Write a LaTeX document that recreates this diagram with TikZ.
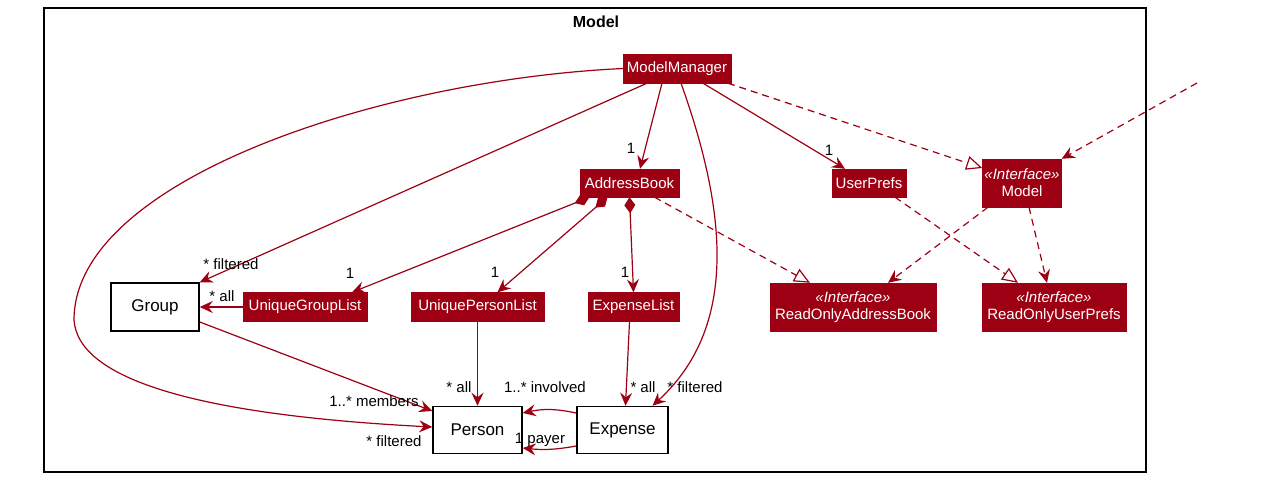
\documentclass[tikz,border=0pt]{standalone}
\usepackage{fontspec}
\setmainfont{Liberation Sans}
\usetikzlibrary{arrows.meta,calc}
\definecolor{mred}{HTML}{9D0012}
\tikzset{
  cls/.style={draw=mred, fill=mred, text=white, font=\fontsize{15}{17}\selectfont, inner sep=0pt, align=center},
  plain/.style={draw=black, line width=1.5pt, fill=white, font=\fontsize{17}{20}\selectfont, inner sep=0pt},
  lbl/.style={font=\fontsize{15}{17}\selectfont, inner sep=0pt},
  assoc/.style={draw=mred, line width=1.2pt, -{Stealth[length=13pt,width=12pt,inset=4.5pt]}},
  comp/.style={draw=mred, line width=1.2pt, {Diamond[length=16pt,width=11pt]}-{Stealth[length=13pt,width=12pt,inset=4.5pt]}},
  real/.style={draw=mred, line width=1.2pt, dash pattern=on 7pt off 5pt, -{Triangle[open,length=16pt,width=14pt,fill=white]}},
  dep/.style={draw=mred, line width=1.2pt, dash pattern=on 7pt off 5pt, -{Stealth[length=13pt,width=12pt,inset=4.5pt]}},
}
\begin{document}
\begin{tikzpicture}[x=1pt,y=-1pt]
\useasboundingbox (0,0) rectangle (1285,480);
\draw[line width=1.5pt] (44,8) rectangle (1146,472);
\node[font=\bfseries\fontsize{16}{18}\selectfont] (title) at (596,22) {Model};

\node[cls, minimum width=108pt, minimum height=29pt] (mm) at (677,68.5) {ModelManager};
\node[cls, minimum width=99pt, minimum height=28pt] (ab) at (629.5,183) {AddressBook};
\node[cls, minimum width=74pt, minimum height=28pt] (up) at (869,183) {UserPrefs};
\node[cls, minimum width=79pt, minimum height=48pt] (model) at (1022,183) {\textit{«Interface»}\\Model};
\node[cls, minimum width=166pt, minimum height=48pt] (roab) at (853,307) {\textit{«Interface»}\\ReadOnlyAddressBook};
\node[cls, minimum width=144pt, minimum height=48pt] (roup) at (1054,307) {\textit{«Interface»}\\ReadOnlyUserPrefs};
\node[plain, minimum width=88pt, minimum height=48pt] (group) at (155,307) {Group};
\node[cls, minimum width=124pt, minimum height=29pt] (ugl) at (305,307) {UniqueGroupList};
\node[cls, minimum width=133pt, minimum height=29pt] (upl) at (477.5,307) {UniquePersonList};
\node[cls, minimum width=91pt, minimum height=29pt] (el) at (633.5,307) {ExpenseList};
\node[plain, minimum width=89pt, minimum height=47pt] (person) at (477.5,430) {Person};
\node[plain, minimum width=91pt, minimum height=47pt] (expense) at (622.5,430) {Expense};
\coordinate (ext) at (1197,83);

% ModelManager edges
\draw[assoc] ([xshift=-30pt]mm.south) -- (group.north east);
\draw[assoc] (mm.west) .. controls (380,80) and (74,180) .. (74,320) .. controls (78,380) and (200,415) .. ([yshift=3pt]person.west);
\draw[assoc] ([xshift=-15pt]mm.south) -- ([xshift=10.5pt]ab.north);
\draw[assoc] ([xshift=4pt]mm.south) .. controls (730,220) and (735,330) .. ([xshift=30pt]expense.north);
\draw[assoc] ([xshift=26pt]mm.south) -- ([xshift=-24pt]up.north);
\draw[real] ([xshift=51pt]mm.south) -- ([yshift=15pt]model.west);
\draw[dep] (ext) -- (model.north east);

% AddressBook edges
\draw[comp] ([xshift=-40pt]ab.south) -- ([xshift=47pt]ugl.north);
\draw[comp] ([xshift=-22pt]ab.south) -- ([xshift=20pt]upl.north);
\draw[comp] (ab.south) -- (el.north);
\draw[real] ([xshift=25pt]ab.south) -- ([xshift=-43pt]roab.north);

\draw[real] ([xshift=26pt]up.south) -- ([xshift=-36pt]roup.north);
\draw[dep] ([xshift=-34pt]model.south) -- ([xshift=35pt]roab.north);
\draw[dep] ([xshift=7pt]model.south) -- ([xshift=-7pt]roup.north);

% lower edges
\draw[assoc] (ugl.west) -- (group.east);
\draw[assoc] ([yshift=-15pt]group.east) -- ([yshift=19pt]person.west);
\draw[assoc] (upl.south) -- (person.north);
\draw[assoc] ([xshift=-4pt]el.south) -- ([xshift=3pt]expense.north);
\draw[assoc] ([yshift=17pt]expense.west) to[bend right=12] ([yshift=17pt]person.east);
\draw[assoc] ([yshift=-16pt]expense.west) to[bend left=8] ([yshift=-18pt]person.east);

% labels
\node[lbl] (l1) at (231,264) {* filtered};
\node[lbl] (l2) at (631,148) {1};
\node[lbl] (l3) at (829,150) {1};
\node[lbl] (l4) at (695,387) {* filtered};
\node[lbl] (l5) at (350,273) {1};
\node[lbl] (l6) at (495,272) {1};
\node[lbl] (l7) at (625,272) {1};
\node[lbl] (l8) at (222,296) {* all};
\node[lbl] (l9) at (374,401) {1..* members};
\node[lbl] (l10) at (394,441) {* filtered};
\node[lbl] (l11) at (459,387) {* all};
\node[lbl] (l12) at (545,387) {1..* involved};
\node[lbl] (l13) at (643,387) {* all};
\node[lbl] (l14) at (540,440) {1 payer};
\end{tikzpicture}
\end{document}
